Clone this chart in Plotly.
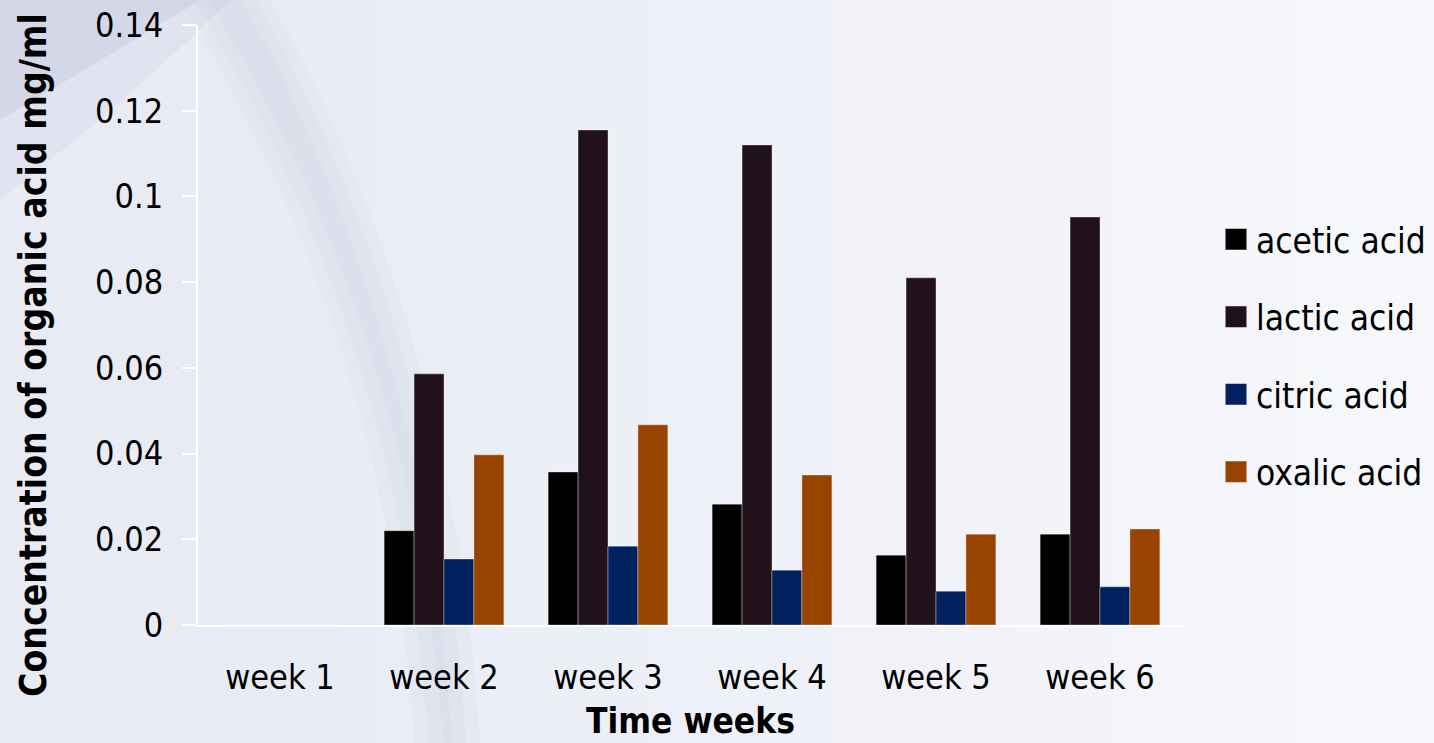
import plotly.graph_objects as go

# ---- data -------------------------------------------------------------
weeks = ["week 1", "week 2", "week 3", "week 4", "week 5", "week 6"]
acetic = [0, 0.0220, 0.0357, 0.0282, 0.0163, 0.0212]
lactic = [0, 0.0586, 0.1155, 0.1120, 0.0810, 0.0952]
citric = [0, 0.0154, 0.0184, 0.0128, 0.0079, 0.0089]
oxalic = [0, 0.0397, 0.0467, 0.0350, 0.0212, 0.0224]

series_names = ["acetic acid", "lactic acid", "citric acid", "oxalic acid"]
series_values = [acetic, lactic, citric, oxalic]
series_colors = ["#000000", "#20111A", "#00205E", "#984300"]

y_ticks = [0, 0.02, 0.04, 0.06, 0.08, 0.1, 0.12, 0.14]
y_ticktext = ["0", "0.02", "0.04", "0.06", "0.08", "0.1", "0.12", "0.14"]

# ---- page geometry ----------------------------------------------------
W, H = 1434, 743
ML, MR, MT, MB = 198, 252, 25, 118
PW, PH = W - ML - MR, H - MT - MB

FONT = "DejaVu Sans Condensed, DejaVu Sans, sans-serif"


def px(x, y):
    """page pixel -> paper coordinates"""
    return (x - ML) / PW, (H - MB - y) / PH


def poly(points):
    pts = [px(x, y) for x, y in points]
    return "M " + " L ".join(f"{a:.5f},{b:.5f}" for a, b in pts) + " Z"


def quad(p0, p1, p2, n=24):
    out = []
    for i in range(n + 1):
        t = i / n
        x = (1 - t) ** 2 * p0[0] + 2 * (1 - t) * t * p1[0] + t ** 2 * p2[0]
        y = (1 - t) ** 2 * p0[1] + 2 * (1 - t) * t * p1[1] + t ** 2 * p2[1]
        out.append((x, y))
    return out


def bg(path, color):
    return dict(type="path", xref="paper", yref="paper", path=path,
                fillcolor=color, line_width=0, layer="below")


shapes = []
# horizontal background gradient: lavender on the left, near white on the right
c_left = (232, 235, 244)
c_right = (247, 248, 252)
g0, g1, n_strips = 230, W, 60
for i in range(n_strips):
    xa = g0 + i * (g1 - g0) / n_strips
    xb = xa + (g1 - g0) / n_strips + 1
    t = i / (n_strips - 1)
    c = tuple(round(a + (b - a) * t) for a, b in zip(c_left, c_right))
    shapes.append(bg(poly([(xa, 0), (xb, 0), (xb, H), (xa, H)]),
                     f"rgb({c[0]},{c[1]},{c[2]})"))

# darker lavender wedge in the upper-left corner
shapes.append(bg(poly([(0, 0)] + quad((200, 0), (110, 55), (0, 120)) + [(0, 0)]),
                 "rgba(196,200,224,0.45)"))
shapes.append(bg(poly([(0, 0)] + quad((230, 0), (140, 90), (0, 200)) + [(0, 0)]),
                 "rgba(196,200,224,0.18)"))
# sweeping grey arc band, soft edged
for k in range(3):
    d = 14 * k
    left_edge = quad((180 + d, 0), (385 + d, 330), (415 + d, 743))
    right_edge = quad((270 - d, 0), (455 - d, 330), (480 - d, 743))
    shapes.append(bg(poly(left_edge + right_edge[::-1]), "rgba(190,195,215,0.10)"))

fig = go.Figure()

for name, vals, col in zip(series_names, series_values, series_colors):
    fig.add_trace(go.Bar(
        x=weeks, y=vals, name=name, marker_color=col,
        marker_line=dict(color="rgba(255,255,255,0.35)", width=1),
        showlegend=False,
    ))

# legend entries with large square swatches
for i, (name, col) in enumerate(zip(series_names, series_colors)):
    fig.add_trace(go.Scatter(
        x=[None], y=[None], mode="markers", name=name, legendgroup=f"g{i}",
        marker=dict(symbol="square", size=16, color=col,
                    line=dict(color=col, width=5)),
    ))

fig.update_layout(
    width=W, height=H,
    margin=dict(l=ML, r=MR, t=MT, b=MB, autoexpand=False),
    paper_bgcolor="#E8EBF4",
    plot_bgcolor="rgba(0,0,0,0)",
    barmode="group", bargap=0.27, bargroupgap=0,
    font=dict(family=FONT, size=34, color="#000000"),
    shapes=shapes,
    showlegend=True,
    legend=dict(x=px(1216, 0)[0], y=px(0, 210)[1], xanchor="left", yanchor="top",
                bgcolor="rgba(0,0,0,0)", tracegroupgap=29,
                font=dict(family=FONT, size=35, color="#000000")),
    xaxis=dict(showline=True, linecolor="#FFFFFF", linewidth=2,
               showgrid=False, zeroline=False, ticks="",
               ticklabelstandoff=21,
               tickfont=dict(family=FONT, size=34, color="#000000")),
    yaxis=dict(range=[0, 0.14], showline=True, linecolor="#FFFFFF", linewidth=2,
               showgrid=False, zeroline=False,
               tickmode="array", tickvals=y_ticks, ticktext=y_ticktext,
               ticks="outside", ticklen=14, tickcolor="#FFFFFF", tickwidth=2,
               ticklabelstandoff=12,
               tickfont=dict(family=FONT, size=34, color="#000000")),
    annotations=[
        dict(text="<b>Concentration of organic acid mg/ml</b>", textangle=-90,
             xref="paper", yref="paper", x=px(33, 0)[0], y=px(0, 355)[1],
             xanchor="center", yanchor="middle", showarrow=False,
             font=dict(family=FONT, size=37, color="#000000")),
        dict(text="<b>Time weeks</b>",
             xref="paper", yref="paper", x=px(690, 0)[0], y=px(0, H)[1],
             xanchor="center", yanchor="bottom", showarrow=False,
             font=dict(family=FONT, size=35, color="#000000")),
    ],
)

fig.write_html("out.html")
